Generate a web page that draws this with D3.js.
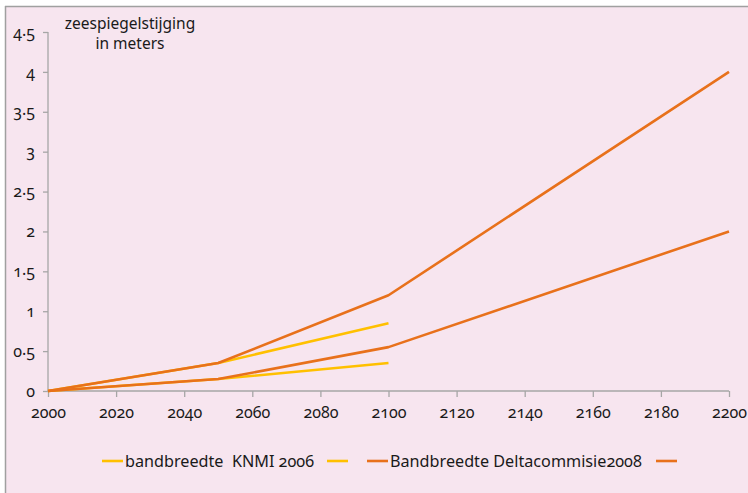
<!DOCTYPE html>
<html><head><meta charset="utf-8">
<script src="https://cdn.jsdelivr.net/npm/d3@7"></script>
<style>
html,body{margin:0;padding:0;background:#fff;}
svg text{font-family:"Noto Sans",sans-serif;font-variant-numeric:oldstyle-nums;fill:#1a1a1a;}
</style></head><body>
<svg id="c" width="748" height="493"></svg>
<script>
const years = [2000, 2050, 2100, 2200];
const knmiYears = [2000, 2050, 2100];
const knmiLow = [0, 0.15, 0.35];
const knmiHigh = [0, 0.35, 0.85];
const deltaLow = [0, 0.15, 0.55, 2];
const deltaHigh = [0, 0.35, 1.2, 4];
const xTicks = [2000, 2020, 2040, 2060, 2080, 2100, 2120, 2140, 2160, 2180, 2200];
const yTicks = [0, 0.5, 1, 1.5, 2, 2.5, 3, 3.5, 4, 4.5];
const yLabel = ["zeespiegelstijging", "in meters"];
const legendLabels = ["bandbreedte  KNMI 2006", "Bandbreedte Deltacommisie2008"];

const yellow = "#ffc000", orange = "#e8711b", axisCol = "#a6a6a6";
const svg = d3.select("#c");
svg.append("rect").attr("x",5).attr("y",6).attr("width",743).attr("height",487).attr("fill","#f7e5ef");
svg.append("line").attr("x1",5.5).attr("x2",5.5).attr("y1",6).attr("y2",493).attr("stroke","#a0a0a0").attr("stroke-width",1.5);
svg.append("line").attr("x1",5).attr("x2",748).attr("y1",6.5).attr("y2",6.5).attr("stroke","#a0a0a0").attr("stroke-width",1.5);

const x = d3.scaleLinear().domain([2000,2200]).range([48,729]);
const y = d3.scaleLinear().domain([0,4.5]).range([391,32]);

const ya = svg.append("g").attr("transform","translate(48,0)")
  .call(d3.axisLeft(y).tickValues(yTicks).tickSize(5).tickPadding(8).tickFormat(""));
const xa = svg.append("g").attr("transform","translate(0,391)")
  .call(d3.axisBottom(x).tickValues(xTicks).tickSize(6).tickPadding(10).tickFormat(d3.format("d")));
[ya,xa].forEach(a=>{
  a.selectAll("path,line").attr("stroke",axisCol).attr("stroke-width",1.3);
  a.select(".domain").attr("d", a===ya ? "M0,391V32" : "M48,0H729");
  a.selectAll("text").attr("font-size",16).attr("font-family","Noto Sans").style("font-variant-numeric","oldstyle-nums").attr("fill","#1a1a1a");
});
// y tick labels with centred dot
ya.selectAll(".tick text").each(function(d){
  const t = d3.select(this);
  const parts = String(d).split(".");
  t.text(parts[0]);
  if(parts.length>1){
    t.append("tspan").attr("dy",3).text("\u00b7");
    t.append("tspan").attr("dy",-3).text(parts[1]);
  }
});

const line = d3.line().x(d=>x(d[0])).y(d=>y(d[1]));
const series = [
  {xs:knmiYears, v:knmiLow, c:yellow},
  {xs:knmiYears, v:knmiHigh, c:yellow},
  {xs:years, v:deltaLow, c:orange},
  {xs:years, v:deltaHigh, c:orange}
];
series.forEach(s=>{
  svg.append("path").datum(s.xs.map((t,i)=>[t,s.v[i]]))
    .attr("d",line).attr("fill","none").attr("stroke",s.c).attr("stroke-width",2.6).attr("stroke-linejoin","round");
});

svg.append("text").attr("x",130).attr("y",29).attr("text-anchor","middle").attr("font-size",15.5).text(yLabel[0]);
svg.append("text").attr("x",130).attr("y",49).attr("text-anchor","middle").attr("font-size",15.5).text(yLabel[1]);

// legend
const ly = 461;
const leg = [
  {x1:102,x2:123,c:yellow,t:legendLabels[0],tx:125},
  {x1:327,x2:348,c:yellow},
  {x1:367,x2:388,c:orange,t:legendLabels[1],tx:390},
  {x1:656,x2:677,c:orange}
];
leg.forEach(l=>{
  svg.append("line").attr("x1",l.x1).attr("x2",l.x2).attr("y1",ly).attr("y2",ly).attr("stroke",l.c).attr("stroke-width",2.6);
  if(l.t) svg.append("text").attr("x",l.tx).attr("y",ly+6).attr("font-size",16.2).attr("xml:space","preserve").style("white-space","pre").text(l.t);
});
</script></body></html>
